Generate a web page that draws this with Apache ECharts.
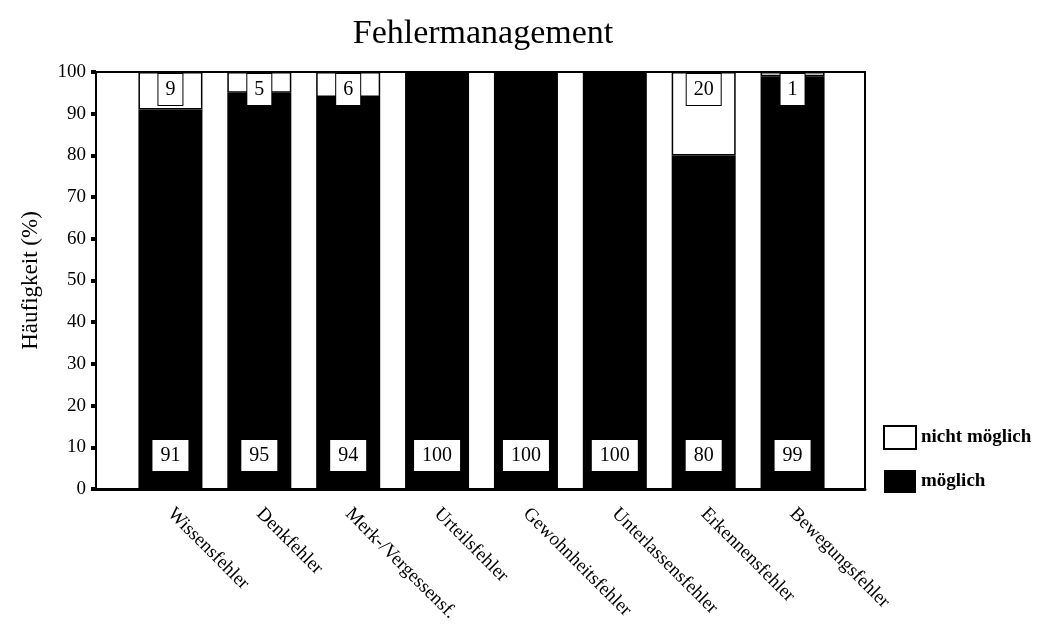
<!DOCTYPE html>
<html>
<head>
<meta charset="utf-8">
<script src="https://cdn.jsdelivr.net/npm/echarts@6/dist/echarts.min.js"></script>
<style>
  html, body { margin: 0; padding: 0; background: #fff; }
  #main { width: 1040px; height: 626px; }
</style>
</head>
<body>
<div id="main"></div>
<script>
// Fehlermanagement - gestapelte Balken
const categories = ['Wissensfehler', 'Denkfehler', 'Merk-/Vergessensf.', 'Urteilsfehler',
  'Gewohnheitsfehler', 'Unterlassensfehler', 'Erkennensfehler', 'Bewegungsfehler'];
const moeglich = [91, 95, 94, 100, 100, 100, 80, 99];
const nichtMoeglich = [9, 5, 6, 0, 0, 0, 20, 1];
const yMin = 0, yMax = 100, yStep = 10;

const serif = 'Liberation Serif';
const chart = echarts.init(document.getElementById('main'));

const option = {
  animation: false,
  backgroundColor: '#fff',
  title: {
    text: 'Fehlermanagement',
    left: 478,
    textAlign: 'center',
    top: 12,
    textStyle: { fontFamily: serif, fontSize: 34, fontWeight: 'normal', color: '#000' }
  },
  legend: {
    orient: 'vertical',
    left: 878,
    top: 420,
    itemWidth: 32,
    itemHeight: 23,
    itemGap: 20,
    icon: 'rect',
    data: ['nicht möglich', 'möglich'],
    textStyle: { fontFamily: serif, fontSize: 19, fontWeight: 'bold', color: '#000' }
  },
  grid: [
    // Rahmen
    { left: 96, right: 175, top: 72, bottom: 137, show: true, borderColor: '#000', borderWidth: 2 },
    // Balken
    { left: 126, width: 711, top: 72, bottom: 137 }
  ],
  xAxis: [
    {
      gridIndex: 0, type: 'value', min: 0, max: 1,
      axisLine: { show: true, onZero: false, lineStyle: { color: '#000', width: 3 } },
      axisTick: { show: false }, axisLabel: { show: false }, splitLine: { show: false }
    },
    {
      gridIndex: 1, type: 'category', data: categories,
      axisLine: { show: false }, axisTick: { show: false },
      axisLabel: {
        rotate: -45, margin: 22, interval: 0,
        fontFamily: serif, fontSize: 19, color: '#000'
      }
    }
  ],
  yAxis: [
    {
      gridIndex: 0, type: 'value', min: yMin, max: yMax, interval: yStep,
      name: 'Häufigkeit (%)', nameLocation: 'middle', nameGap: 54,
      nameTextStyle: { fontFamily: serif, fontSize: 23, color: '#000' },
      axisLine: { show: true, lineStyle: { color: '#000', width: 2 } },
      axisTick: { show: true, length: 5, lineStyle: { color: '#000', width: 4 } },
      axisLabel: { margin: 10, fontFamily: serif, fontSize: 19, color: '#000' },
      splitLine: { show: false }
    },
    { gridIndex: 1, type: 'value', min: yMin, max: yMax, show: false }
  ],
  series: [
    {
      name: 'möglich',
      type: 'bar',
      stack: 'a',
      xAxisIndex: 1, yAxisIndex: 1,
      barWidth: 64,
      data: moeglich,
      itemStyle: { color: '#000' },
      label: {
        show: true,
        position: 'insideBottom',
        distance: 18,
        fontFamily: serif, fontSize: 20, color: '#000',
        backgroundColor: '#fff',
        padding: [6, 8, 5, 8]
      }
    },
    {
      name: 'nicht möglich',
      type: 'bar',
      stack: 'a',
      xAxisIndex: 1, yAxisIndex: 1,
      barWidth: 64,
      data: nichtMoeglich.map(v => ({ value: v, label: { show: v > 0 } })),
      itemStyle: { color: '#fff', borderColor: '#000', borderWidth: 1.5 },
      label: {
        show: true,
        position: 'insideTop',
        distance: 2,
        fontFamily: serif, fontSize: 20, color: '#000',
        backgroundColor: '#fff',
        borderColor: '#000', borderWidth: 1,
        padding: [6, 7, 5, 7]
      }
    }
  ]
};

chart.setOption(option);
</script>
</body>
</html>
